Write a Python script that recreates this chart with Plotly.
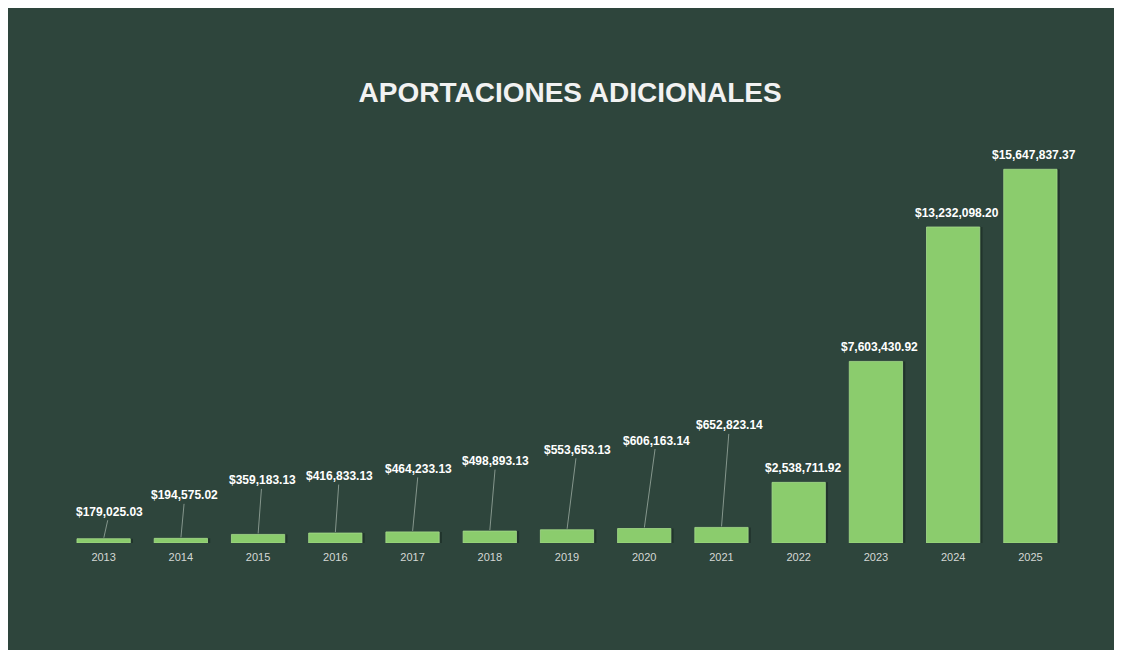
import plotly.graph_objects as go

# ---- data ----
years = ["2013", "2014", "2015", "2016", "2017", "2018", "2019",
         "2020", "2021", "2022", "2023", "2024", "2025"]
values = [179025.03, 194575.02, 359183.13, 416833.13, 464233.13, 498893.13,
          553653.13, 606163.14, 652823.14, 2538711.92, 7603430.92,
          13232098.20, 15647837.37]
labels = ["$179,025.03", "$194,575.02", "$359,183.13", "$416,833.13",
          "$464,233.13", "$498,893.13", "$553,653.13", "$606,163.14",
          "$652,823.14", "$2,538,711.92", "$7,603,430.92", "$13,232,098.20",
          "$15,647,837.37"]
title_text = "APORTACIONES ADICIONALES"

# ---- styling / layout ----
W, H = 1122, 650
L, R, T, B = 57, 61, 129, 115
BG = "#2e453c"
BAR = "#8bcc6d"
FONT = "Liberation Sans, Arial"
# label offsets (pixels) for leader-lined labels of small bars; None -> label sits on bar top
label_offsets = [(6, -27), (4, -43), (4, -54), (4, -57), (6, -63), (6, -70),
                 (10, -80), (12, -88), (8, -102), None, None, None, None]

fig = go.Figure()

# soft shadow behind bars
fig.add_trace(go.Bar(
    x=years, y=values, width=0.69, offset=-0.31,
    marker=dict(color="rgba(10,20,15,0.35)", line=dict(width=0)),
    hoverinfo="skip", showlegend=False,
))
fig.add_trace(go.Bar(
    x=years, y=values, width=0.69, offset=-0.345,
    marker=dict(color=BAR, line=dict(color="#a6da8c", width=0.8)),
    showlegend=False,
))

annotations = []
for i, (v, lab, off) in enumerate(zip(values, labels, label_offsets)):
    font = dict(family=FONT, size=12, color="#ffffff")
    txt = "<b>" + lab + "</b>"
    if off is None:
        annotations.append(dict(
            x=i, y=v, xref="x", yref="y", text=txt, showarrow=False,
            yanchor="bottom", yshift=5, xshift=4, font=font,
        ))
    else:
        annotations.append(dict(
            x=i, y=v, xref="x", yref="y", text=txt, showarrow=True,
            ax=off[0], ay=off[1], arrowhead=0, arrowwidth=1,
            arrowcolor="rgba(170,185,175,0.7)", standoff=1, startstandoff=0,
            font=font,
        ))

fig.update_layout(
    width=W, height=H,
    margin=dict(l=L, r=R, t=T, b=B, pad=0),
    paper_bgcolor=BG,
    plot_bgcolor=BG,
    barmode="overlay",
    title=dict(
        text="<b>" + title_text + "</b>",
        x=0.501, xanchor="center", xref="container",
        y=1 - 84 / H, yanchor="middle", yref="container",
        font=dict(family=FONT, size=28, color="#f2f2f2"),
    ),
    annotations=annotations,
    xaxis=dict(
        type="category", range=[-0.5, len(years) - 0.5],
        showgrid=False, zeroline=False, showline=False,
        ticks="", tickfont=dict(family=FONT, size=11, color="#d4d8d5"),
        ticklabelstandoff=6,
    ),
    yaxis=dict(
        range=[0, 17_000_000], visible=False, showgrid=False, zeroline=False,
    ),
)

fig.write_html("out.html")
